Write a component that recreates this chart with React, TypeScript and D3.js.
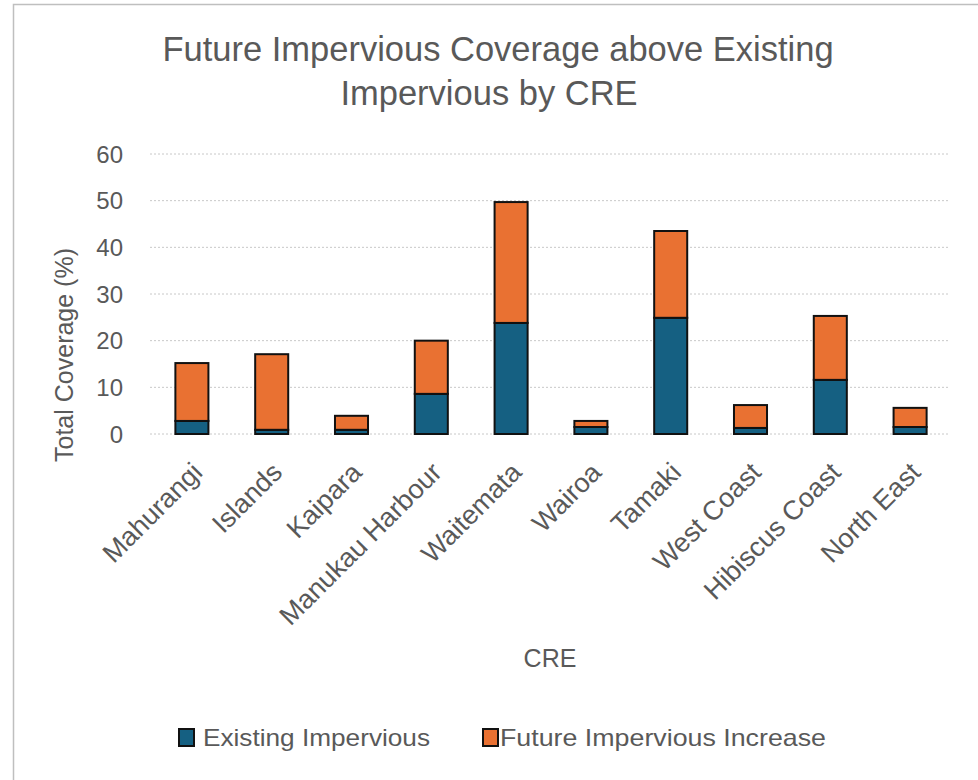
import * as d3 from "d3";
import { useEffect, useRef } from "react";

const categories = [
  "Mahurangi",
  "Islands",
  "Kaipara",
  "Manukau Harbour",
  "Waitemata",
  "Wairoa",
  "Tamaki",
  "West Coast",
  "Hibiscus Coast",
  "North East",
];
const existingImpervious = [2.8, 0.9, 0.9, 8.6, 23.8, 1.5, 24.9, 1.3, 11.6, 1.5];
const futureIncrease = [12.4, 16.2, 3.0, 11.4, 25.9, 1.3, 18.6, 4.9, 13.7, 4.1];
const yTicks = [0, 10, 20, 30, 40, 50, 60];
const seriesNames = ["Existing Impervious", "Future Impervious Increase"];
const seriesColors = ["#156082", "#E97132"];

const font = "'Liberation Sans', Arial, sans-serif";
const textColor = "#595959";

const App = () => {
  const ref = useRef<SVGSVGElement | null>(null);

  useEffect(() => {
    const svg = d3.select(ref.current);
    svg.selectAll("*").remove();

    const width = 978;
    const height = 780;
    svg.attr("width", width).attr("height", height);

    svg.append("rect").attr("width", width).attr("height", height).attr("fill", "#fff");

    // chart frame (left and top edges visible)
    svg
      .append("path")
      .attr("d", `M13.5,${height} V4.5 H${width}`)
      .attr("fill", "none")
      .attr("stroke", "#bfbfbf")
      .attr("stroke-width", 1.5);

    const rows = categories.map((c, i) => ({
      label: c,
      existing: existingImpervious[i],
      future: futureIncrease[i],
    }));

    const x = d3
      .scaleBand()
      .domain(categories)
      .range([152, 950])
      .paddingInner(0.586)
      .paddingOuter(0.293);

    const y = d3.scaleLinear().domain([0, 60]).range([434, 154]);

    // Gridlines
    svg
      .append("g")
      .selectAll("line")
      .data(yTicks)
      .enter()
      .append("line")
      .attr("x1", 150)
      .attr("x2", 950)
      .attr("y1", (d) => y(d))
      .attr("y2", (d) => y(d))
      .attr("stroke", "#c8c8c8")
      .attr("stroke-width", 1)
      .attr("stroke-dasharray", "2,2");

    // Y tick labels
    svg
      .append("g")
      .selectAll("text")
      .data(yTicks)
      .enter()
      .append("text")
      .attr("x", 123)
      .attr("y", (d) => y(d))
      .attr("dy", "0.36em")
      .attr("text-anchor", "end")
      .style("font-family", font)
      .style("font-size", "24px")
      .style("fill", textColor)
      .text((d) => d);

    // Stacked bars
    const stack = d3.stack<any>().keys(["existing", "future"]);
    const layers = stack(rows);

    svg
      .append("g")
      .selectAll("g")
      .data(layers)
      .enter()
      .append("g")
      .attr("fill", (_d, i) => seriesColors[i])
      .selectAll("rect")
      .data((d) => d)
      .enter()
      .append("rect")
      .attr("x", (d) => x(d.data.label) || 0)
      .attr("y", (d) => y(d[1]))
      .attr("width", x.bandwidth())
      .attr("height", (d) => y(d[0]) - y(d[1]))
      .attr("stroke", "#111")
      .attr("stroke-width", 2);

    // X tick labels, rotated
    svg
      .append("g")
      .selectAll("text")
      .data(categories)
      .enter()
      .append("text")
      .attr(
        "transform",
        (d) => `translate(${(x(d) || 0) + x.bandwidth() / 2 + 12}, 474) rotate(-45)`
      )
      .attr("text-anchor", "end")
      .style("font-family", font)
      .style("font-size", "27px")
      .style("fill", textColor)
      .text((d) => d);

    // Title
    const title = svg
      .append("text")
      .attr("text-anchor", "middle")
      .style("font-family", font)
      .style("font-size", "34.5px")
      .style("fill", textColor);
    title.append("tspan").attr("x", 498).attr("y", 61).text("Future Impervious Coverage above Existing");
    title.append("tspan").attr("x", 489).attr("y", 105).text("Impervious by CRE");

    // Axis titles
    svg
      .append("text")
      .attr("transform", "translate(73, 355) rotate(-90)")
      .attr("text-anchor", "middle")
      .style("font-family", font)
      .style("font-size", "25px")
      .style("fill", textColor)
      .text("Total Coverage (%)");

    svg
      .append("text")
      .attr("x", 550)
      .attr("y", 667)
      .attr("text-anchor", "middle")
      .style("font-family", font)
      .style("font-size", "25px")
      .style("fill", textColor)
      .text("CRE");

    // Legend
    const legend = [
      { name: seriesNames[0], color: seriesColors[0], box: 179, text: 203, len: 227 },
      { name: seriesNames[1], color: seriesColors[1], box: 483, text: 500, len: 326 },
    ];
    const lg = svg.append("g").selectAll("g").data(legend).enter().append("g");
    lg.append("rect")
      .attr("x", (d) => d.box)
      .attr("y", 729)
      .attr("width", 15)
      .attr("height", 17)
      .attr("fill", (d) => d.color)
      .attr("stroke", "#111")
      .attr("stroke-width", 2);
    lg.append("text")
      .attr("x", (d) => d.text)
      .attr("y", 746)
      .attr("textLength", (d) => d.len)
      .attr("lengthAdjust", "spacingAndGlyphs")
      .style("font-family", font)
      .style("font-size", "24px")
      .style("fill", textColor)
      .text((d) => d.name);
  }, []);

  return <svg ref={ref} style={{ position: "absolute", left: 0, top: 0 }}></svg>;
};

export default App;
